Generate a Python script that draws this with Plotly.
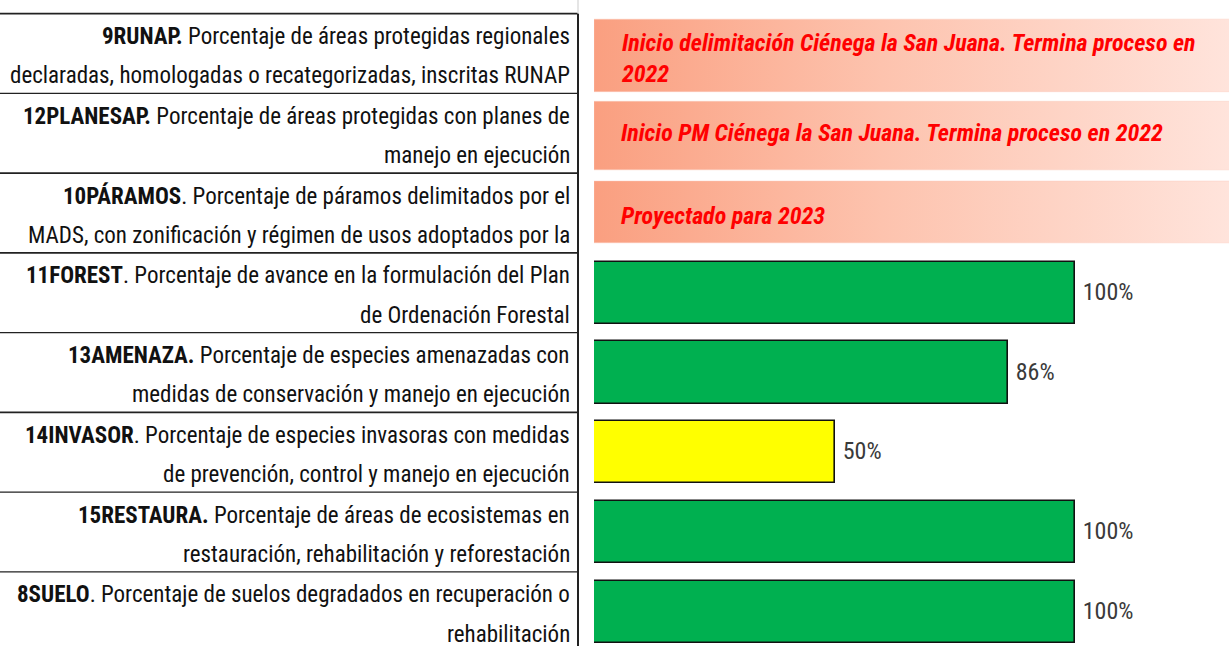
import plotly.graph_objects as go

# ---- data ----
codes = ["9RUNAP.", "12PLANESAP.", "10PÁRAMOS", "11FOREST", "13AMENAZA.", "14INVASOR", "15RESTAURA.", "8SUELO"]
line1_rest = [
    " Porcentaje de áreas protegidas regionales",
    " Porcentaje de áreas protegidas con planes de",
    ". Porcentaje de páramos delimitados por el",
    ". Porcentaje de avance en la formulación del Plan",
    " Porcentaje de especies amenazadas con",
    ". Porcentaje de especies invasoras con medidas",
    " Porcentaje de áreas de ecosistemas en",
    ". Porcentaje de suelos degradados en recuperación o",
]
line2 = [
    "declaradas, homologadas o recategorizadas, inscritas RUNAP",
    "manejo en ejecución",
    "MADS, con zonificación y régimen de usos adoptados por la",
    "de Ordenación Forestal",
    "medidas de conservación y manejo en ejecución",
    "de prevención, control y manejo en ejecución",
    "restauración, rehabilitación y reforestación",
    "rehabilitación",
]
bar_rows = [3, 4, 5, 6, 7]
bar_values = [1.00, 0.86, 0.50, 1.00, 1.00]
bar_colors = ["#00B050", "#00B050", "#FFFF00", "#00B050", "#00B050"]
note_rows = [0, 1, 2]
note_texts = [
    "Inicio delimitación Ciénega la San Juana. Termina proceso en<br>2022",
    "Inicio PM Ciénega la San Juana. Termina proceso en 2022",
    "Proyectado para 2023",
]

W, H = 1229, 646
FONT = "Liberation Sans Narrow, Roboto Condensed, Arial Narrow, Liberation Sans, sans-serif"

fig = go.Figure()

# bars
fig.add_trace(go.Bar(
    x=bar_values, y=bar_rows, orientation="h", width=0.78,
    marker=dict(color=bar_colors, line=dict(color="#111111", width=1.6)),
    text=[f" {v*100:.0f}%" for v in bar_values], textposition="outside",
    textfont=dict(family=FONT, size=24, color="#3a3a3a"),
    cliponaxis=False, hoverinfo="skip",
))

# gradient note boxes
note_y = [(-0.43, 0.48), (0.60, 1.46), (1.60, 2.375)]
for (ya, yb) in note_y:
    fig.add_trace(go.Scatter(
        x=[0.0, 1.33, 1.33, 0.0, 0.0], y=[ya, ya, yb, yb, ya],
        mode="lines", line=dict(width=0.6, color="rgba(250,200,185,0.7)"), fill="toself",
        fillgradient=dict(type="horizontal",
                          colorscale=[[0, "#FA9F80"], [0.45, "#FDC3AE"], [1, "#FFE4DC"]]),
        hoverinfo="skip", showlegend=False,
    ))
note_yc = [0.06, 1.0, 2.04]
for yc, txt in zip(note_yc, note_texts):
    fig.add_annotation(
        x=0.052, y=yc, xref="x", yref="y",
        text=f"<b><i>{txt}</i></b>", showarrow=False, xanchor="left", align="left",
        font=dict(family=FONT, size=24, color="#FF0000"),
    )

# left labels
xr = 572 / W
for i in range(8):
    fig.add_annotation(x=xr, y=i - 0.21, xref="paper", yref="y", xanchor="right",
                       text=f"<b>{codes[i]}</b>{line1_rest[i]}", showarrow=False,
                       font=dict(family=FONT, size=23, color="#111111"))
    fig.add_annotation(x=xr, y=i + 0.28, xref="paper", yref="y", xanchor="right",
                       text=line2[i], showarrow=False,
                       font=dict(family=FONT, size=23, color="#111111"))

# table lines
for i in range(8):
    fig.add_shape(type="line", xref="paper", yref="y", x0=0, x1=578 / W,
                  y0=i - 0.5, y1=i - 0.5,
                  line=dict(color="#222222", width=1.8 if i in (0, 2, 3, 5) else 1.2))
fig.add_shape(type="line", xref="paper", yref="y", x0=578 / W, x1=578 / W,
              y0=-0.5, y1=7.6, line=dict(color="#222222", width=2))
fig.add_shape(type="line", xref="paper", yref="y", x0=578 / W, x1=578 / W,
              y0=-0.67, y1=-0.5, line=dict(color="#DDDDDD", width=1.5))

fig.update_layout(
    width=W, height=H, margin=dict(l=0, r=0, t=0, b=0),
    paper_bgcolor="white", plot_bgcolor="white", showlegend=False,
    xaxis=dict(domain=[594 / W, 1], range=[0, 1.32], visible=False, fixedrange=True),
    yaxis=dict(range=[7.43, -0.67], visible=False, fixedrange=True),
    bargap=0,
)

fig.write_html("out.html", config={"displayModeBar": False},
               post_script="document.body.style.margin='0';")
